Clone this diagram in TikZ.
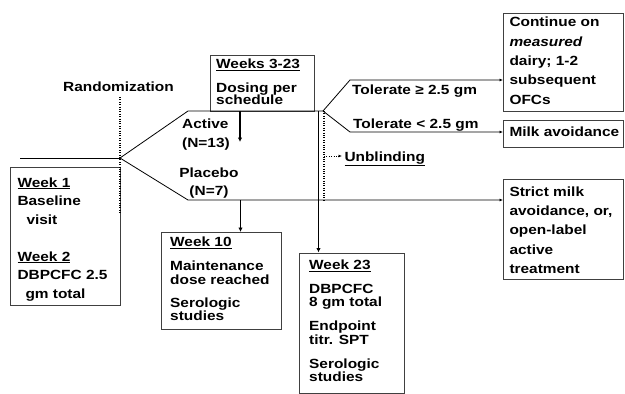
\documentclass[tikz,border=0pt]{standalone}
\usepackage{fontspec}
\setmainfont{Liberation Sans}[FakeStretch=1.16]
\usetikzlibrary{arrows.meta}
\begin{document}
\begin{tikzpicture}[x=1pt,y=-1pt,
  box/.style={draw=black!75,line width=0.9pt,inner sep=0pt,anchor=north west},
  txt/.style={inner sep=0pt,anchor=base west,align=left,font=\bfseries\fontsize{13.3}{13.3}\selectfont},
  txtw/.style={inner sep=0pt,anchor=base west,align=left,font=\bfseries\fontsize{13.3}{19.3}\selectfont},
  ln/.style={line width=0.8pt},
  arr/.style={line width=0.8pt,-{Latex[length=3.5pt,width=3pt]}},
  tarr/.style={line width=1.7pt,-{Latex[length=4.5pt,width=4.5pt]}},
  dot/.style={line width=1.3pt,dash pattern=on 1pt off 1.4pt}]
\path[use as bounding box] (0,0) rectangle (625,394);

% boxes
\node[box,minimum width=110,minimum height=138] (w1) at (9.5,167) {};
\node[box,minimum width=104.5,minimum height=56] (w323) at (209.5,55) {};
\node[box,minimum width=120,minimum height=97] (w10) at (161,232) {};
\node[box,minimum width=104.5,minimum height=140.5] (w23) at (299,252.5) {};
\node[box,minimum width=120,minimum height=98] (cont) at (503,13) {};
\node[box,minimum width=120,minimum height=27] (milk) at (503,120) {};
\node[box,minimum width=120,minimum height=100.5] (strict) at (503,178.5) {};

% texts (multi-line nodes: base = baseline of last line)
\node[txt,anchor=base] (rand) at (118.5,91.7) {Randomization};
\node[txt,font=\bfseries\fontsize{13.3}{18.5}\selectfont] (w1t) at (17.3,298) {\underline{Week 1}\\Baseline\\\hspace*{9pt}visit\\[18.5pt]\underline{Week 2}\\DBPCFC 2.5\\\hspace*{8pt}gm total};
\node[txt,font=\bfseries\fontsize{13.3}{12.5}\selectfont] (w323t) at (216,104.5) {\underline{Weeks 3-23}\\[11pt]Dosing per\\schedule};
\node[txt,font=\bfseries\fontsize{13.3}{19}\selectfont] (actt) at (182,147.3) {Active\\(N=13)};
\node[txt,anchor=base,align=center,font=\bfseries\fontsize{13.3}{18.3}\selectfont] (plat) at (209,195.5) {Placebo\\(N=7)};
\node[txt] (w10t) at (170,320.7) {\underline{Week 10}\\[10.7pt]Maintenance\\dose reached\\[10pt]Serologic\\studies};
\node[txt] (w23t) at (309,381.3) {\underline{Week 23}\\[10.5pt]DBPCFC\\8 gm total\\[10.7pt]Endpoint\\titr. SPT\\[10.7pt]Serologic\\studies};
\node[txtw] (contt) at (509.3,104) {Continue on\\\textit{measured}\\dairy; 1-2\\subsequent\\OFCs};
\node[txt] (milkt) at (509.3,136) {Milk avoidance};
\node[txtw] (strictt) at (509.3,273.3) {Strict milk\\avoidance, or,\\open-label\\active\\treatment};
\node[txt] (tolhi) at (352,94.3) {Tolerate ≥ 2.5 gm};
\node[txt] (tollo) at (353,128.3) {Tolerate < 2.5 gm};
\node[txt] (unbl) at (344.3,161) {\underline{Unblinding}};

% coordinates
\coordinate (a0) at (20,158);
\coordinate (r0) at (120,158);
\coordinate (rdT) at (120,97);
\coordinate (rdB) at (120,213);
\coordinate (actL) at (188,111);
\coordinate (actR) at (323,111);
\coordinate (plaL) at (188,200);
\coordinate (actA) at (240,111);
\coordinate (actAe) at (240,142);
\coordinate (plaA) at (240.5,200);
\coordinate (w23A) at (318.5,111);
\coordinate (ubT) at (324,111);
\coordinate (ubB) at (324,200);
\coordinate (ub0) at (324,156);
\coordinate (ubTip) at (342,156);
\coordinate (hiK) at (350,80);
\coordinate (loK) at (350,132);

% connectors
\draw[ln] (a0) -- (r0);
\draw[dot] (rdT) -- (rdB);
\draw[ln] (r0) -- (actL) -- (actR);
\draw[arr] (r0) -- (plaL) -- (plaL -| strict.west);
\draw[tarr] (actA) -- (actAe);
\draw[tarr] (plaA) -- (plaA |- w10.north);
\draw[tarr] (w23A) -- (w23A |- w23.north);
\draw[dot] (ubT) -- (ubB);
\draw[line width=0.8pt,dash pattern=on 1pt off 1.4pt,-{Latex[length=3.5pt,width=3pt]}] (ub0) -- (ubTip);
\draw[arr] (actR) -- (hiK) -- (hiK -| cont.west);
\draw[arr] (actR) -- (loK) -- (loK -| milk.west);
\end{tikzpicture}
\end{document}
